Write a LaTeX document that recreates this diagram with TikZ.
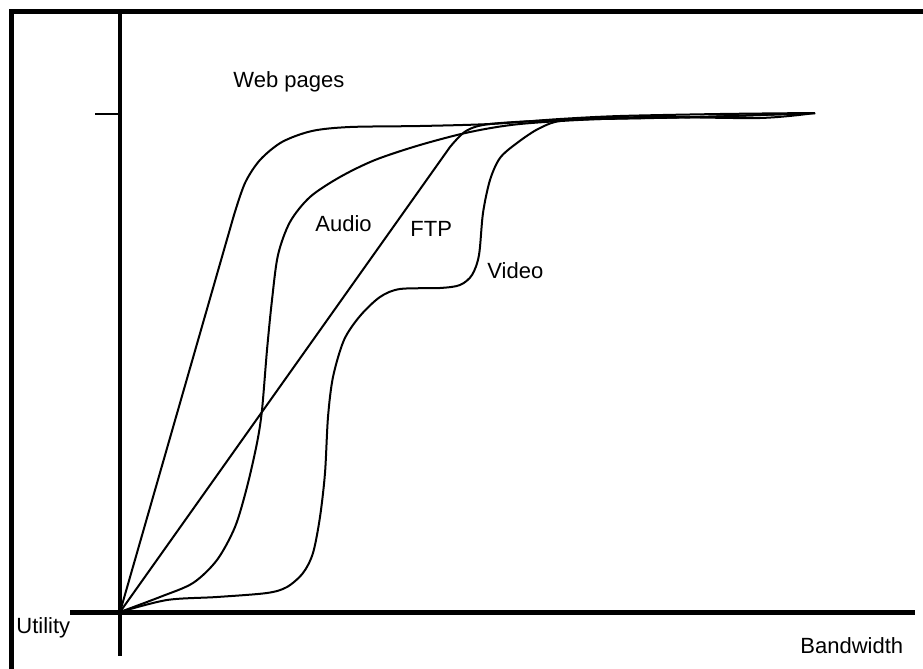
\documentclass[tikz,border=0pt]{standalone}
\usepackage{fontspec}
\setmainfont{Liberation Sans}
\begin{document}
\begin{tikzpicture}[x=0.5pt,y=-0.5pt,
    lbl/.style={anchor=base west,inner sep=0pt,font=\fontsize{11}{13}\selectfont}]
    \useasboundingbox (0,0) rectangle (923,669);
    % frame and axes
    \draw[line width=2.5pt] (11.5,669) |- (923,11.5);
    \draw[line width=2pt] (120,11.5)--(120,656);
    \draw[line width=2.5pt] (70,612)--(915,612);
    \draw[line width=1pt] (95,114)--(120,114);
    \begin{scope}[line width=1pt,smooth,line join=round]
      % web pages
      \draw (120,612) -- (234,215) plot coordinates {(234,215) (245,183) (260,160)
        (282,142) (312,131) (350,127) (420,126) (490,124) (560,119) (620,116) (720,114) (815,113)};
      % audio
      \draw plot coordinates {(120,612) (160,597) (193,583) (217,560) (235,527) (247,487)
        (257,443) (262,410) (267,350) (272,300) (278,255) (290,222) (310,197) (340,177)
        (375,160) (420,145) (470,132) (520,124) (600,119) (700,117) (815,113)};
      % ftp
      \draw (120,612) -- (450,147) plot coordinates {(450,147) (466,131) (490,124)
        (560,120) (700,117) (815,113)};
      % video
      \draw plot coordinates {(120,612) (167,600) (217,597) (267,593) (287,587) (303,573)
        (313,553) (320,517) (325,473) (328,417) (333,377) (344,340) (360,316) (380,297)
        (400,289) (440,288) (460,285) (472,275) (479,255) (483,213) (490,180) (500,158)
        (517,143) (540,128) (567,120) (650,117) (760,118) (815,113)};
    \end{scope}
    \node[lbl] (web) at (233,87) {Web pages};
    \node[lbl] (util) at (16,633) {Utility};
    \node[lbl] (bw) at (800,653) {Bandwidth};
    \node[lbl] (audio) at (315,231) {Audio};
    \node[lbl] (ftp) at (410,236) {FTP};
    \node[lbl] (video) at (487,278) {Video};
\end{tikzpicture}
\end{document}
